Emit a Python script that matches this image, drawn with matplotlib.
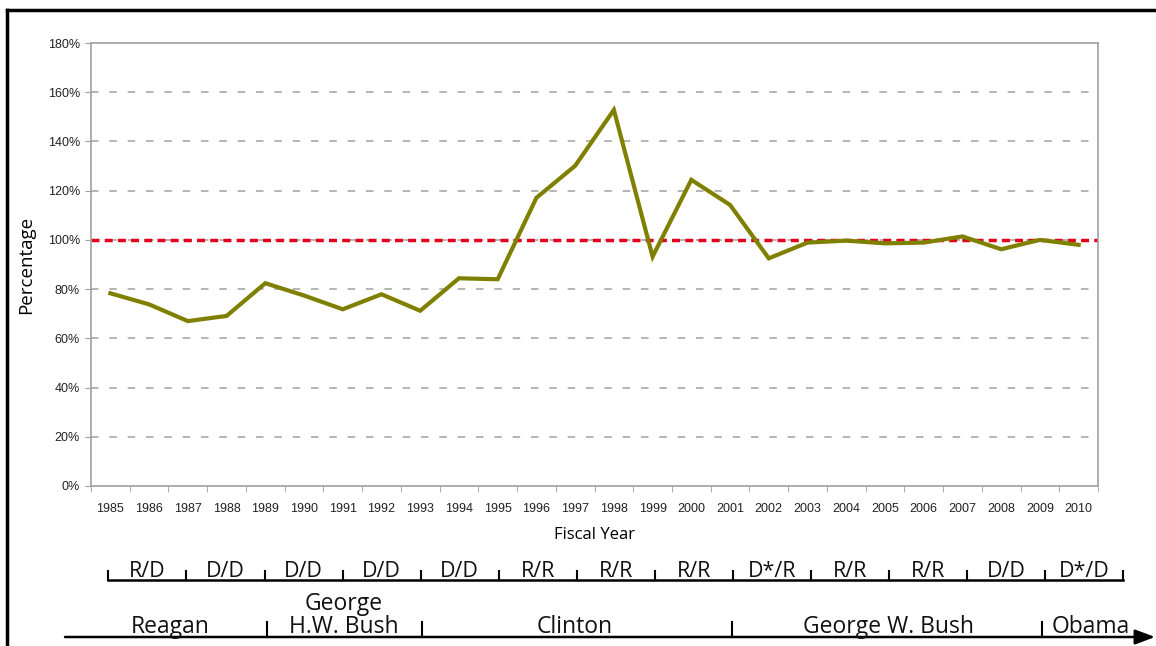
import matplotlib
matplotlib.use("Agg")
import matplotlib.pyplot as plt
import matplotlib.transforms as mtransforms
from matplotlib.ticker import FuncFormatter, FixedLocator
from matplotlib.lines import Line2D

years = list(range(1985, 2011))
percent = [78.3, 73.8, 67.0, 69.1, 82.4, 77.4, 71.8, 77.9, 71.2, 84.4, 84.0,
           117.1, 130.1, 152.8, 93.2, 124.4, 114.2, 92.5, 98.9, 99.7, 98.6,
           98.9, 101.4, 96.2, 100.0, 98.0]
congress_labels = ["R/D", "D/D", "D/D", "D/D", "D/D", "R/R", "R/R", "R/R",
                   "D*/R", "R/R", "R/R", "D/D", "D*/D"]
presidents = ["Reagan", "George\nH.W. Bush", "Clinton", "George W. Bush", "Obama"]
president_boundaries = [1989, 1993, 2001, 2009]
yticks = [0, 20, 40, 60, 80, 100, 120, 140, 160, 180]

W, H = 1156, 646
fig = plt.figure(figsize=(W / 100, H / 100), dpi=100)
ax = fig.add_axes([91 / W, 1 - 486 / H, (1098 - 91) / W, (486 - 43) / H])

x = list(range(len(years)))
ax.set_xlim(-0.5, len(years) - 0.5)
ax.set_ylim(0, 180)

for v in yticks[1:-1]:
    ax.axhline(v, color="#a8a8a8", lw=1.2, dashes=(4.5, 6.5), zorder=1)
ax.axhline(100, color="#e3001b", lw=2.5, dashes=(2.3, 1.5), zorder=2)
ax.plot(x, percent, color="#808000", lw=3.0, zorder=3, solid_joinstyle="miter")

ax.yaxis.set_major_locator(FixedLocator(yticks))
ax.yaxis.set_major_formatter(FuncFormatter(lambda v, p: f"{int(v)}%"))
ax.set_xticks(x)
ax.set_xticklabels([str(y) for y in years])
ax.set_xticks([i - 0.5 for i in range(len(years) + 1)], minor=True)
ax.tick_params(axis="x", which="major", length=0, pad=12, labelsize=9, labelcolor="#222222")
ax.tick_params(axis="x", which="minor", length=4, color="#a0a0a0", direction="out")
ax.tick_params(axis="y", length=4, color="#a0a0a0", labelsize=9, labelcolor="#222222", pad=4)
for s in ax.spines.values():
    s.set_color("#a0a0a0")
    s.set_linewidth(1.2)

for lab in ax.get_xticklabels() + ax.get_yticklabels():
    lab.set_family(["Liberation Sans", "DejaVu Sans"])

ax.set_xlabel("Fiscal Year", fontsize=12, family="Open Sans", labelpad=9)
ax.set_ylabel("Percentage", fontsize=13.5, family="Open Sans", labelpad=9)

trans = mtransforms.blended_transform_factory(ax.transData, fig.transFigure)
fy = lambda px: 1 - px / H

# Congress brackets
step = 2.015
cy = fy(580)
x0, x1 = x[0] - 0.05, x[0] - 0.05 + step * len(congress_labels)
fig.add_artist(Line2D([x0, x1], [cy, cy], transform=trans, color="black", lw=1.8, clip_on=False))
for k in range(len(congress_labels) + 1):
    bx = x0 + step * k
    fig.add_artist(Line2D([bx, bx], [cy, fy(571)], transform=trans, color="black", lw=1.5, clip_on=False))
for k, lab in enumerate(congress_labels):
    fig.text(x0 + step * k + step / 2, fy(577), lab, transform=trans, ha="center", va="baseline",
             fontsize=15.5, family="Open Sans", color="#111111")

# Presidents arrow
py = fy(637)
ax.annotate("", xy=(1155 / W, py), xytext=(65 / W, py), xycoords="figure fraction",
            textcoords="figure fraction",
            arrowprops=dict(arrowstyle="-|>,head_length=1.2,head_width=0.45", color="black", lw=1.8,
                            shrinkA=0, shrinkB=0))
for b in president_boundaries:
    bx = years.index(b) + 0.05
    fig.add_artist(Line2D([bx, bx], [py, fy(622)], transform=trans, color="black", lw=1.5, clip_on=False))
pres_x = [1.55, 6.03, 12.0, 20.1, 25.3]
for px_, name in zip(pres_x, presidents):
    fig.text(px_, fy(633), name, transform=trans, ha="center", va="baseline",
             fontsize=16.5, family="Open Sans", color="#111111", linespacing=0.92)

# Outer frame (left and top)
fig.add_artist(Line2D([7 / W, 7 / W], [0, fy(10)], transform=fig.transFigure, color="black", lw=2.5))
fig.add_artist(Line2D([7 / W, 1], [fy(10), fy(10)], transform=fig.transFigure, color="black", lw=2.5))

fig.savefig("out.png", dpi=100)
